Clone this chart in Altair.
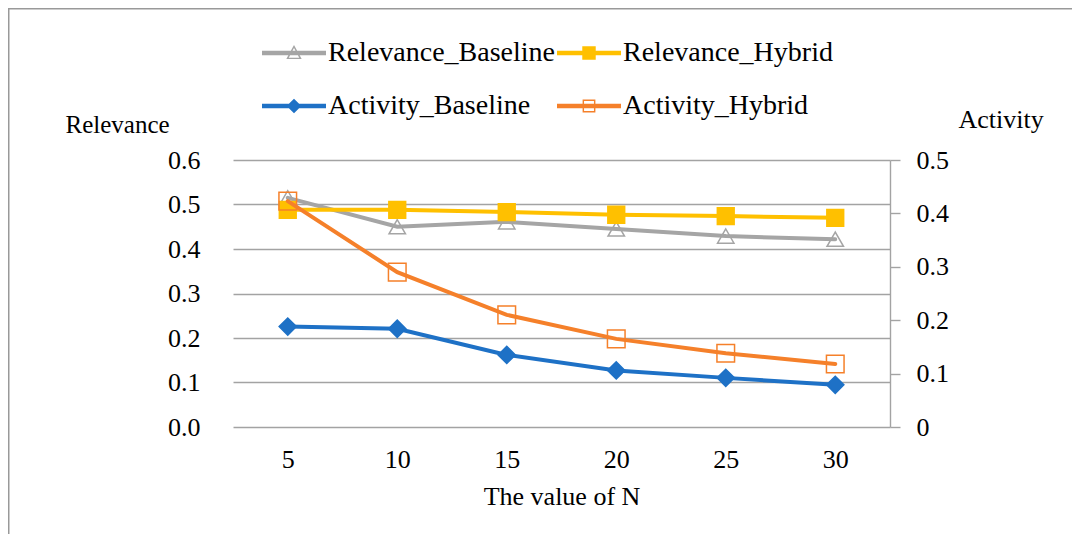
import altair as alt
import pandas as pd

# ---------------- data ----------------
N_VALUES = [5, 10, 15, 20, 25, 30]
RELEVANCE_BASELINE = [0.515, 0.450, 0.461, 0.445, 0.429, 0.422]
RELEVANCE_HYBRID = [0.488, 0.488, 0.483, 0.477, 0.474, 0.470]
ACTIVITY_BASELINE = [0.188, 0.184, 0.135, 0.106, 0.092, 0.079]
ACTIVITY_HYBRID = [0.423, 0.290, 0.210, 0.165, 0.138, 0.118]

SERIES = ["Relevance_Baseline", "Relevance_Hybrid", "Activity_Baseline", "Activity_Hybrid"]
LEFT_TICKS = [0.0, 0.1, 0.2, 0.3, 0.4, 0.5, 0.6]
RIGHT_TICKS = [0.0, 0.1, 0.2, 0.3, 0.4, 0.5]

# ---------------- styles ----------------
FONT = "Liberation Serif"
COLORS = ["#A5A5A5", "#FFC000", "#1E71C6", "#F5802A"]
SHAPES = ["triangle-up", "square", "diamond", "square"]
FILLS = ["transparent", "#FFC000", "#1E71C6", "transparent"]
SIZES = [270, 310, 280, 280]
GRID = "#A3A3A3"

LINE = "M-1,-0.07H1V0.07H-1Z"
LEGEND_PATHS = [
    LINE + "M0,-0.25L0.24,0.19L-0.24,0.19Z" + "M0,-0.156L-0.164,0.145L0.164,0.145Z",
    LINE + "M-0.21,-0.21H0.21V0.21H-0.21Z",
    LINE + "M0,-0.23L0.23,0L0,0.23L-0.23,0Z",
    LINE + "M-0.2,-0.2H0.2V0.2H-0.2Z" + "M-0.155,-0.155V0.155H0.155V-0.155Z",
]

rel_df = pd.DataFrame({
    "N": N_VALUES * 2,
    "value": RELEVANCE_BASELINE + RELEVANCE_HYBRID,
    "series": [SERIES[0]] * 6 + [SERIES[1]] * 6,
})
act_df = pd.DataFrame({
    "N": N_VALUES * 2,
    "value": ACTIVITY_BASELINE + ACTIVITY_HYBRID,
    "series": [SERIES[2]] * 6 + [SERIES[3]] * 6,
})
legend_df = pd.DataFrame({"series": SERIES})
one_row = pd.DataFrame({"a": [0]})

x_enc = alt.X(
    "N:O",
    scale=alt.Scale(type="point", padding=0.5),
    axis=alt.Axis(
        title="The value of N", labelAngle=0, ticks=False, domain=False, grid=False,
        labelPadding=19, labelFontSize=26, labelFont=FONT, labelColor="black",
        titleFont=FONT, titleFontSize=26, titleFontWeight="normal", titleColor="black",
        titleBaseline="alphabetic", titleY=77,
    ),
)

color_enc = alt.Color("series:N", scale=alt.Scale(domain=SERIES, range=COLORS), legend=None)
fill_enc = alt.Fill("series:N", scale=alt.Scale(domain=SERIES, range=FILLS), legend=None)
shape_enc = alt.Shape("series:N", scale=alt.Scale(domain=SERIES, range=SHAPES), legend=None)
size_enc = alt.Size("series:N", scale=alt.Scale(domain=SERIES, range=SIZES), legend=None)

left_y = alt.Y(
    "value:Q",
    scale=alt.Scale(domain=[0, 0.6], nice=False),
    axis=alt.Axis(
        orient="left", values=LEFT_TICKS, format=".1f", grid=True, gridColor=GRID,
        gridWidth=1.4, domain=False, ticks=False, tickSize=0, labelPadding=33,
        labelFont=FONT, labelFontSize=26, labelColor="black",
        title="Relevance", titleAngle=0, titleAlign="left", titleBaseline="alphabetic",
        titleX=-168, titleY=-28, titleFont=FONT, titleFontSize=25,
        titleFontWeight="normal", titleColor="black",
    ),
)
right_y = alt.Y(
    "value:Q",
    scale=alt.Scale(domain=[0, 0.5], nice=False),
    axis=alt.Axis(
        orient="right", values=RIGHT_TICKS,
        labelExpr="datum.value == 0 ? '0' : format(datum.value, '.1f')",
        grid=False, domain=True, domainColor=GRID, domainWidth=1.4,
        ticks=True, tickColor=GRID, tickWidth=1.4, tickSize=10, labelPadding=16,
        labelFont=FONT, labelFontSize=26, labelColor="black",
        title="Activity", titleAngle=0, titleAlign="left", titleBaseline="alphabetic",
        titleX=68, titleY=-33, titleFont=FONT, titleFontSize=26,
        titleFontWeight="normal", titleColor="black",
    ),
)

def series_layer(df, y_enc):
    lines = alt.Chart(df).mark_line(strokeWidth=4, strokeCap="round").encode(
        x=x_enc, y=y_enc, color=color_enc, detail="series:N"
    )
    points = alt.Chart(df).mark_point(filled=False, opacity=1, strokeWidth=1.5).encode(
        x=x_enc, y=y_enc, color=color_enc, fill=fill_enc, shape=shape_enc, size=size_enc
    )
    return alt.layer(lines, points)

rel_layer = series_layer(rel_df, left_y)
act_layer = series_layer(act_df, right_y)

legend_props = dict(
    orient="none", legendX=29, legendY=-139, columns=2, direction="horizontal",
    title=None, padding=0,
    labelFont=FONT, labelFontSize=28, labelColor="black", labelLimit=500,
    symbolSize=4096, symbolStrokeWidth=0, labelOffset=2, columnPadding=1, rowPadding=7,
)
legend_layer = alt.Chart(legend_df).mark_point(filled=True, opacity=1).encode(
    color=alt.Color("series:N", scale=alt.Scale(domain=SERIES, range=COLORS),
                    legend=alt.Legend(**legend_props)),
    shape=alt.Shape("series:N", scale=alt.Scale(domain=SERIES, range=LEGEND_PATHS),
                    legend=alt.Legend(**legend_props)),
).transform_filter("false")

border_left = alt.Chart(one_row).mark_rule(color="#999999", strokeWidth=1.5).encode(
    x=alt.value(-224.25), y=alt.value(-152), y2=alt.value(420)
)
border_top = alt.Chart(one_row).mark_rule(color="#999999", strokeWidth=1.5).encode(
    x=alt.value(-225), x2=alt.value(900), y=alt.value(-151.25)
)

chart = alt.layer(
    rel_layer, act_layer, legend_layer, border_left, border_top
).resolve_scale(
    y="independent", color="independent", shape="independent",
    fill="independent", size="independent",
).properties(
    width=657, height=267,
    autosize=alt.AutoSizeParams(type="none"),
    padding={"left": 225, "top": 152, "right": 182, "bottom": 107},
    background="white",
).configure_view(stroke=None)

chart.save("out.html", embed_options={"renderer": "svg", "actions": False})
